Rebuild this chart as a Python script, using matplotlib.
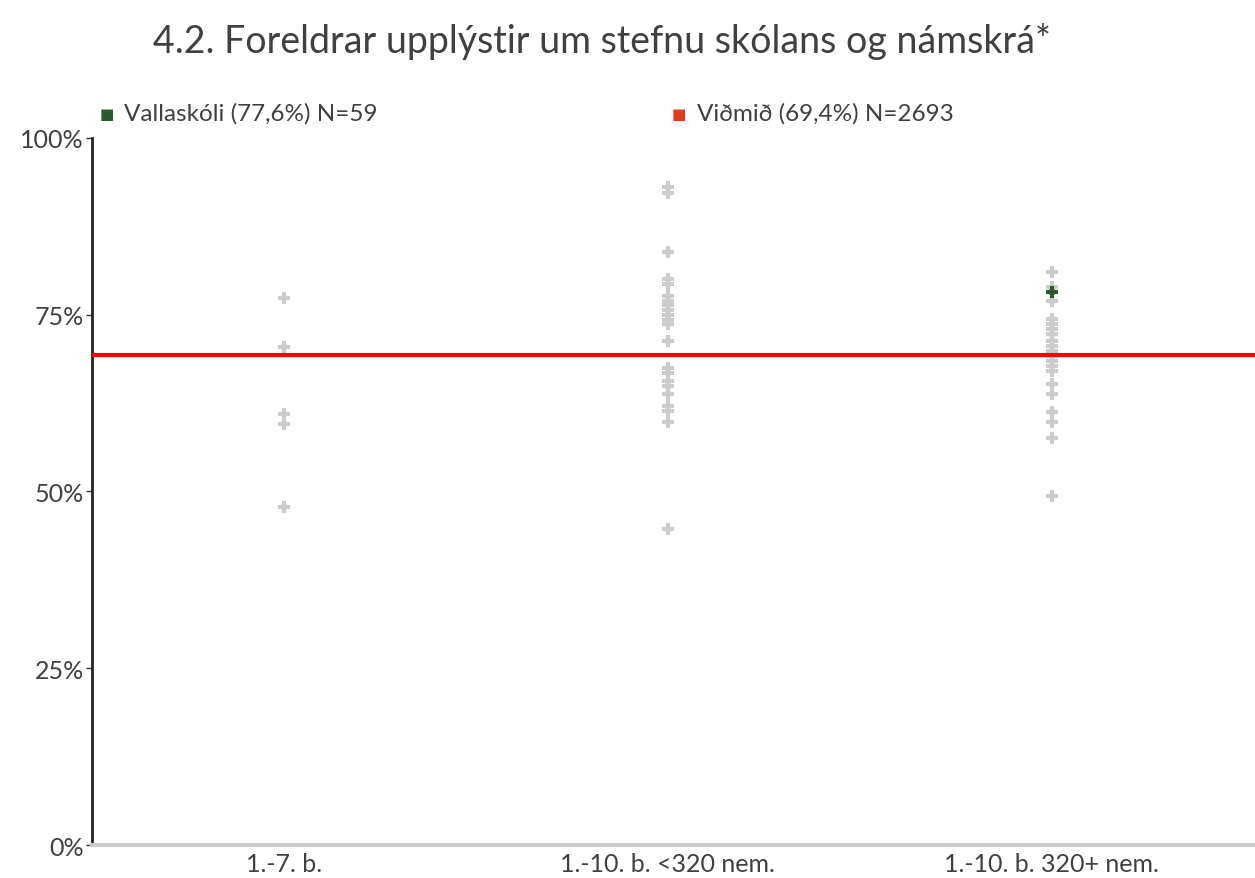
import matplotlib.pyplot as plt
import numpy as np

plt.rcParams['font.family'] = ['Lato', 'DejaVu Sans']

categories = ["1.-7. b.", "1.-10. b. <320 nem.", "1.-10. b. 320+ nem."]

col1 = [77.3, 70.4, 60.9, 59.6, 47.8]
col2 = [93.0, 92.2, 83.9, 80.1, 79.3, 77.7, 77.0, 76.3, 75.6, 74.9, 74.2, 73.7,
        71.3, 67.5, 66.8, 65.6, 64.9, 63.8, 62.1, 61.4, 59.8, 44.7]
col3 = [81.0, 78.9, 77.0, 74.4, 73.7, 73.0, 72.3, 71.3, 70.6, 69.9, 69.2, 68.5,
        67.8, 67.1, 65.2, 63.8, 61.3, 59.8, 57.6, 49.4]
school_cat = 2
school_value = 78.2
benchmark = 69.3

fig = plt.figure(figsize=(12.55, 8.79), dpi=100)
ax = fig.add_axes([0.0733, 0.0375, 0.9267, 0.8045])

for i, vals in enumerate([col1, col2, col3]):
    x = [i] * len(vals)
    ax.plot(x, vals, 'D', color='#cccccc', markersize=5, markeredgewidth=0,
            linestyle='none', zorder=2)
    ax.plot(x, vals, 'P', color='#cccccc', markersize=8, markeredgewidth=0,
            linestyle='none', zorder=2)

ax.axhline(benchmark, color='#ff0000', linewidth=3, zorder=3)
ax.plot([school_cat], [school_value], 'D', color='#2d5a2d', markersize=5,
        markeredgewidth=0, zorder=4)
ax.plot([school_cat], [school_value], 'P', color='#2d5a2d', markersize=8,
        markeredgewidth=0, zorder=4)

ax.set_xlim(-0.5, 2.53)
ax.set_ylim(0, 100)
ax.set_yticks([0, 25, 50, 75, 100])
ax.set_yticklabels(['0%', '25%', '50%', '75%', '100%'], fontsize=18, color='#404040')
ax.set_xticks(range(len(categories)))
ax.set_xticklabels(categories, fontsize=18, color='#404040')
ax.tick_params(axis='x', length=0, pad=5)
ax.tick_params(axis='y', length=4, width=1, color='#333333', pad=2)

for s in ['top', 'right']:
    ax.spines[s].set_visible(False)
ax.spines['left'].set_color('#222222')
ax.spines['left'].set_linewidth(2)
ax.spines['bottom'].set_color('#cccccc')
ax.spines['bottom'].set_linewidth(3)

fig.text(0.48, 0.953, "4.2. Foreldrar upplýstir um stefnu skólans og námskrá*",
         ha='center', va='center', fontsize=27, color='#404040')

fig.text(0.079, 0.870, "■", color='#2d5a2d', fontsize=11, va='center',
         family=['DejaVu Sans'])
fig.text(0.099, 0.870, "Vallaskóli (77,6%) N=59", color='#404040', fontsize=17.5, va='center')
fig.text(0.535, 0.870, "■", color='#e03c1e', fontsize=11, va='center',
         family=['DejaVu Sans'])
fig.text(0.555, 0.870, "Viðmið (69,4%) N=2693", color='#404040', fontsize=17.5, va='center')

plt.savefig('out.png', dpi=100)
